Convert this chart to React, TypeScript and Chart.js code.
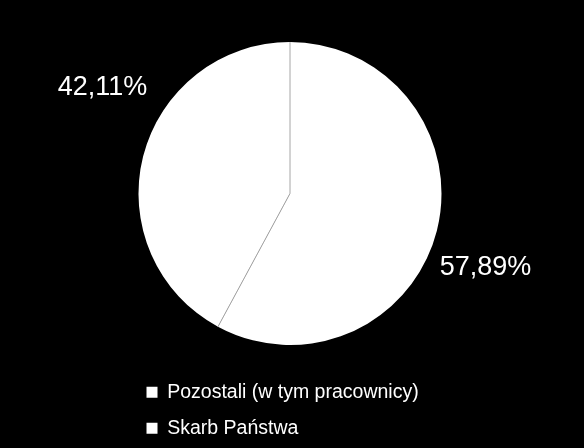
import { useEffect, useRef } from 'react';
import { Chart, registerables, ArcElement } from 'chart.js';

Chart.register(...registerables);

const categories = ['Pozostali (w tym pracownicy)', 'Skarb Państwa'];
const shares = [57.89, 42.11];
const sliceColors = ['#ffffff', '#ffffff'];

// label placement relative to each slice: angle shift (deg) from mid-angle, distance in radii
const labelAngleShift = [6.6, 15.2];
const labelRadiusFactor = [1.38, 1.42];

const formatShare = (v: number) => v.toFixed(2).replace('.', ',') + '%';

const separatorPlugin = {
    id: 'separators',
    afterDatasetsDraw(chart: Chart) {
        const ctx = chart.ctx;
        const meta = chart.getDatasetMeta(0);
        ctx.save();
        ctx.strokeStyle = '#a6a6a6';
        ctx.lineWidth = 1;
        meta.data.forEach((el) => {
            const arc = el as unknown as ArcElement;
            const { x, y, startAngle, outerRadius } = arc.getProps(['x', 'y', 'startAngle', 'outerRadius'], true) as any;
            ctx.beginPath();
            ctx.moveTo(x, y);
            ctx.lineTo(x + Math.cos(startAngle) * outerRadius, y + Math.sin(startAngle) * outerRadius);
            ctx.stroke();
        });
        ctx.restore();
    },
};

const sliceLabelPlugin = {
    id: 'sliceLabels',
    afterDatasetsDraw(chart: Chart) {
        const ctx = chart.ctx;
        const meta = chart.getDatasetMeta(0);
        ctx.save();
        ctx.fillStyle = '#ffffff';
        ctx.font = '27px "Liberation Sans", Arial, sans-serif';
        ctx.textAlign = 'center';
        ctx.textBaseline = 'middle';
        meta.data.forEach((el, i) => {
            const arc = el as unknown as ArcElement;
            const { x, y, startAngle, endAngle, outerRadius } = arc.getProps(
                ['x', 'y', 'startAngle', 'endAngle', 'outerRadius'],
                true
            ) as any;
            const angle = (startAngle + endAngle) / 2 + (labelAngleShift[i] * Math.PI) / 180;
            const dist = outerRadius * labelRadiusFactor[i];
            ctx.fillText(formatShare(shares[i]), x + Math.cos(angle) * dist, y + Math.sin(angle) * dist);
        });
        ctx.restore();
    },
};

export default function App() {
    const chartRef = useRef<HTMLCanvasElement | null>(null);
    const chartInstance = useRef<Chart | null>(null);

    useEffect(() => {
        document.body.style.margin = '0';
        document.body.style.background = '#000000';
        const ctx = chartRef.current?.getContext('2d');
        if (!ctx) return;
        if (chartInstance.current) {
            chartInstance.current.destroy();
        }
        chartInstance.current = new Chart(ctx, {
            type: 'pie',
            data: {
                labels: categories,
                datasets: [
                    {
                        data: shares,
                        backgroundColor: sliceColors,
                        borderWidth: 0,
                        hoverOffset: 0,
                    },
                ],
            },
            options: {
                animation: false,
                responsive: true,
                maintainAspectRatio: false,
                radius: 151.5,
                layout: {
                    padding: { top: 21, left: 130, right: 134, bottom: 0 },
                },
                plugins: {
                    tooltip: { enabled: false },
                    legend: {
                        display: true,
                        position: 'bottom',
                        align: 'start',
                        labels: {
                            color: '#ffffff',
                            boxWidth: 11,
                            boxHeight: 11,
                            padding: 16.5,
                            font: { family: '"Liberation Sans", Arial, sans-serif', size: 19.5 },
                        },
                    },
                },
            },
            plugins: [separatorPlugin, sliceLabelPlugin],
        });
        return () => {
            if (chartInstance.current) {
                chartInstance.current.destroy();
                chartInstance.current = null;
            }
        };
    }, []);

    return (
        <div style={{ position: 'absolute', left: 0, top: 0, width: 584, height: 448, background: '#000000' }}>
            <canvas ref={chartRef}></canvas>
        </div>
    );
}
